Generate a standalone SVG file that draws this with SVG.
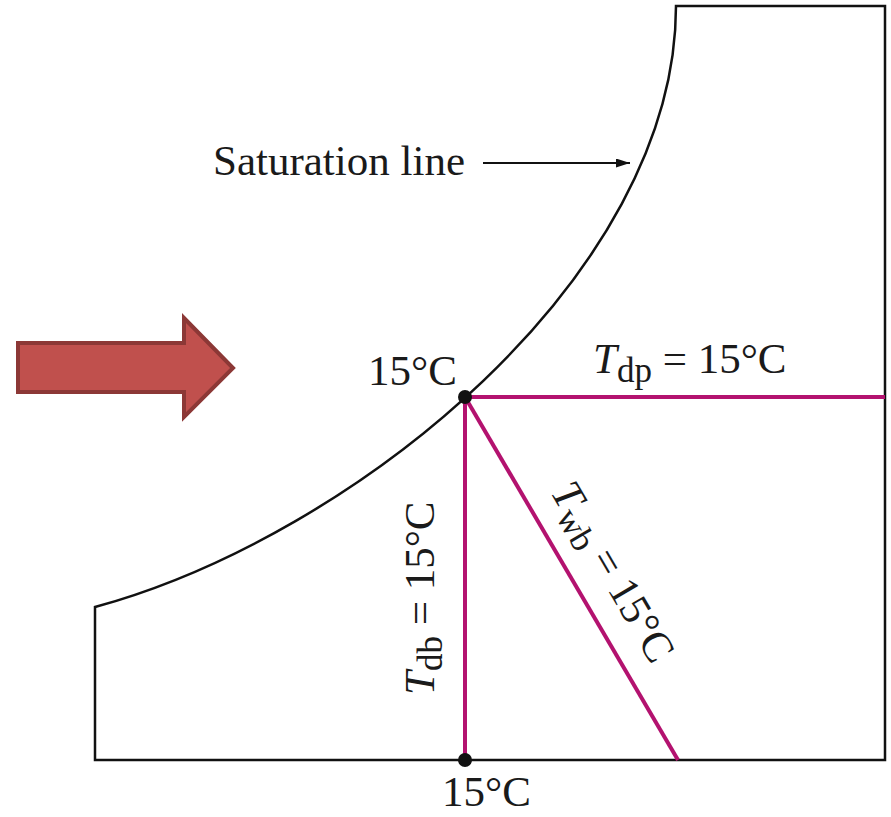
<svg xmlns="http://www.w3.org/2000/svg" width="891" height="817" viewBox="0 0 891 817">
<style>
.frame{fill:none;stroke:#111;stroke-width:2.5}
.mag{stroke:#b3126f;stroke-width:4;fill:none}
.dot{fill:#111}
.lbl{font-family:"Liberation Serif","Times New Roman",serif;font-size:43px;fill:#1a1a1a}
.it{font-style:italic}
.sub{font-size:35px}
</style>
<defs>
<marker id="ah" viewBox="0 0 10 10" refX="10" refY="5" markerWidth="14" markerHeight="9" markerUnits="userSpaceOnUse" orient="auto" preserveAspectRatio="none">
<path d="M0,0 L10,5 L0,10 z" fill="#111"/>
</marker>
</defs>
<rect width="891" height="817" fill="#fff"/>
<g id="chart">
<path class="frame" d="M95,607 C355,536 676,276 676,6 L885,6 L885,760 L95,760 Z"/>
</g>
<g id="connectors">
<line class="mag" x1="465" y1="397" x2="885" y2="397"/>
<line class="mag" x1="465" y1="397" x2="465" y2="760"/>
<line class="mag" x1="465" y1="397" x2="678" y2="760"/>
<line x1="483" y1="163" x2="630" y2="163" stroke="#111" stroke-width="1.8" marker-end="url(#ah)"/>
</g>
<g id="point-top">
<circle class="dot" cx="465" cy="397" r="7"/>
<text class="lbl" x="368" y="385">15°C</text>
</g>
<g id="point-bottom">
<circle class="dot" cx="465" cy="760" r="7"/>
<text class="lbl" x="442" y="806">15°C</text>
</g>
<g id="saturation-label">
<text class="lbl" x="213" y="175">Saturation line</text>
</g>
<g id="tdp-label">
<text class="lbl" x="593" y="373"><tspan class="it">T</tspan><tspan class="sub" dy="9">dp</tspan><tspan dy="-9"> = 15°C</tspan></text>
</g>
<g id="tdb-label">
<text class="lbl" transform="translate(434,695) rotate(-90)"><tspan class="it">T</tspan><tspan class="sub" dy="8">db</tspan><tspan dy="-8"> = 15°C</tspan></text>
</g>
<g id="twb-label">
<text class="lbl" transform="translate(550,492) rotate(59.6)"><tspan class="it">T</tspan><tspan class="sub" dy="8">wb</tspan><tspan dy="-8"> = 15°C</tspan></text>
</g>
<g id="red-arrow">
<path d="M18,343 L184,343 L184,318 L233,368 L184,417 L184,392 L18,392 Z" fill="#c0504d" stroke="#8c3836" stroke-width="4" stroke-linejoin="miter"/>
</g>
</svg>
